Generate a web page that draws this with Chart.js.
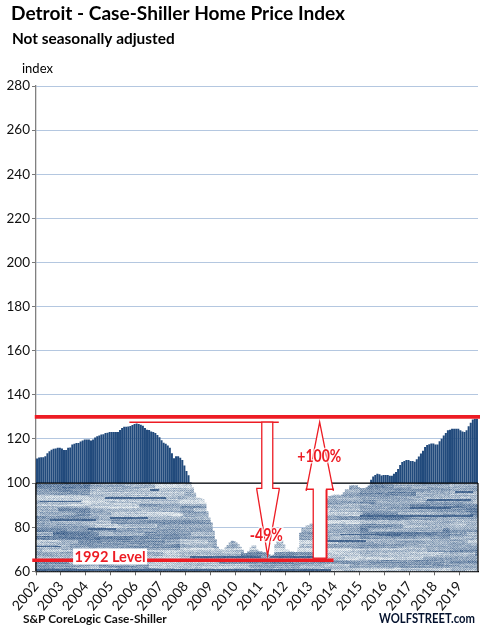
<!DOCTYPE html>
<html><head><meta charset="utf-8">
<style>html,body{margin:0;padding:0;background:#fff}canvas{display:block}</style>
<script src="https://cdn.jsdelivr.net/npm/chart.js@4"></script>
</head><body><canvas id="c" width="480" height="629"></canvas>
<script>
const firstYear = 2002;
const yTicks = [60,80,100,120,140,160,180,200,220,240,260,280];
const v2002 = [111.1,111.6,111.7,111.7,112.1,113.5,114.4,115.1,115.6,115.7,116,116];
const v2003 = [115.7,115,115,116,116.1,117.5,117.8,118.2,118.2,118.8,119.3,119.7];
const v2004 = [119.7,119.8,119.3,119.7,120.6,121.2,121.6,122,122.1,122.7,122.8,123.1];
const v2005 = [123.1,123.1,123.1,123.1,124,125,125.5,125.5,125.6,125.9,126.3,126.8];
const v2006 = [127,126.8,126.4,126,125,124.2,124,123.4,123.1,122.7,121.8,120.8];
const v2007 = [119.4,118.3,117.8,117,116,113.5,111.3,112.2,112.1,111.5,110.5,108];
const v2008 = [105.5,103.5,100.3,98,95.5,93.2,93.2,93,92.6,91,87.2,84.2];
const v2009 = [82,78.2,74.4,71,70,70,69.6,70.6,71.8,72.9,73.7,73.5];
const v2010 = [72.9,72.2,71,69.7,68.2,68.2,69,70.5,71.5,71.5,70,69];
const v2011 = [69,68.5,68.5,67.9,67.5,67,67.4,72,73.5,74,74,72];
const v2012 = [69.7,69.7,69,69,68.6,68.6,70.5,77.3,79.5,79.5,80.6,80.6];
const v2013 = [81.5,81.5,81.5,83,85,87,89,91,93,94,94.2,94.7];
const v2014 = [94.7,94.7,94.2,94.7,95.8,97,97,98.8,98.9,98.9,98.9,98];
const v2015 = [97.5,97.5,97.5,98,98.7,101.5,103,103.7,104.2,104,103.4,103.7];
const v2016 = [103.7,103.7,103.3,103.3,104.2,105,106.4,108.2,109.6,110,110.4,110.4];
const v2017 = [110,110,109.7,110.8,112,113.4,114.6,116.4,117.2,117.6,117.9,117.9];
const v2018 = [117.5,117.5,119,120.1,121.6,122.7,123.9,124.2,124.6,124.6,124.6,124.6];
const v2019 = [123.9,123.4,123.1,123.9,125.7,127.3,128.8,129.2,129.2];
const indexValues = [].concat(v2002,v2003,v2004,v2005,v2006,v2007,v2008,v2009,v2010,v2011,v2012,v2013,v2014,v2015,v2016,v2017,v2018,v2019);
const monthsTotal = indexValues.length;
const level2006Peak = 127.6, levelNow = 130, level1992 = 65, splitLevel = 100;

const RED = '#ed1c24';

function hash(a,b){const s=Math.sin(a*127.1+b*311.7)*43758.5453;return s-Math.floor(s);}
const darkStreaks = [[105,165,497,2],[110,147,517,2],[50,95,519,2],[88,115,528,2],[150,158,489,2],[40,80,501,1],
 [360,450,515,2],[410,450,507,2],[427,470,499,2],[455,472,491,2],[444,472,515,2],[325,365,540,2],[36,330,569,2],[36,60,546,1],[190,260,556,2],[340,400,534,1],[270,320,556,2]];
function makeTexture(){
  const cv=document.createElement('canvas');cv.width=480;cv.height=629;
  const g=cv.getContext('2d');const img=g.createImageData(480,629);
  for(let y=0;y<629;y++){
    for(let x=0;x<480;x++){
      const seg=Math.floor((x+hash(y,1)*40)/(10+hash(y,2)*24));
      const band=Math.floor(y/4);
      const segB=Math.floor((x+hash(band,3)*90)/(35+hash(band,4)*50));
      const broad=Math.floor(y/11);
      let t=0.25*hash(y,seg+5)+0.45*hash(band,segB+9)+0.3*hash(broad,Math.floor(x/90)+2);
      t=0.85*t+0.16;
      t+=((x+y)%2?0.09:-0.09)+(hash(x,y)-0.5)*0.22;
      for(const s of darkStreaks){ if(x>=s[0]&&x<=s[1]&&y>=s[2]&&y<s[2]+s[3]) t=0.08+hash(x,y)*0.16; }
      t=Math.max(0,Math.min(1,t));
      const i=(y*480+x)*4;
      img.data[i]=40+t*195;img.data[i+1]=78+t*162;img.data[i+2]=126+t*116;img.data[i+3]=255;
    }
  }
  g.putImageData(img,0,0);
  return g.createPattern(cv,'no-repeat');
}

const ctx=document.getElementById('c').getContext('2d');
const upperData=indexValues.map((v,m)=>v>splitLevel?{x:m+0.5,y:[splitLevel,v]}:null).filter(Boolean);
const lowerData=indexValues.map((v,m)=>({x:m+0.5,y:[60,Math.min(v,splitLevel)]}));

const overlay={id:'overlay',
 afterDatasetsDraw(ch){
  const c=ch.ctx,X=ch.scales.x,Y=ch.scales.y;
  const px=m=>X.getPixelForValue(m),py=v=>Y.getPixelForValue(v);
  const seg=(m0,v0,m1,v1,col,w)=>{c.strokeStyle=col;c.lineWidth=w;c.beginPath();c.moveTo(px(m0),py(v0));c.lineTo(px(m1),py(v1));c.stroke();};
  c.save();
  seg(0,splitLevel,monthsTotal,splitLevel,'#000',1.2);
  seg(0,splitLevel,0,60,'#000',1.2);
  seg(monthsTotal,splitLevel,monthsTotal,60,'#000',1.2);
  seg(-0.6,levelNow,monthsTotal+1,levelNow,RED,3.6);
  seg(-1.8,level1992,143.4,level1992,RED,3.4);
  seg(45,level2006Peak,117,level2006Peak,RED,1.4);
  const poly=(pts)=>{c.beginPath();pts.forEach((p,i)=>i?c.lineTo(px(p[0]),py(p[1])):c.moveTo(px(p[0]),py(p[1])));c.closePath();c.fillStyle='#fff';c.fill();c.strokeStyle=RED;c.lineWidth=1.3;c.stroke();};
  poly([[108.8,level2006Peak],[114.1,level2006Peak],[114.1,97.6],[117.2,97.6],[117.2,97],[111.6,67.2],[106.4,97],[106.4,97.6],[108.8,97.6]]);
  poly([[133.6,66],[140,66],[140,97.2],[143.3,97.2],[143.3,96.5],[136.7,127.6],[130.2,96.5],[130.2,97.2],[133.6,97.2]]);
  seg(133.4,65.2,140.2,65.2,RED,2.5);
  seg(140,66,140,97,RED,1.8);
  c.textBaseline='middle';c.textAlign='center';
  c.font='bold 16.5px Lato';
  const halo=(t,m,v,w)=>{c.lineWidth=3;c.strokeStyle='rgba(255,255,255,0.75)';c.strokeText(t,px(m),py(v),w);c.fillStyle=RED;c.fillText(t,px(m),py(v),w);};
  halo('-49%',111,76.2,33);
  halo('+100%',136.5,111.8,44);
  const lw=74,lx=px(35.7),ly=py(66.7);
  c.fillStyle='#fff';c.fillRect(lx-lw/2,ly-8,lw,16);
  c.fillStyle=RED;c.font='bold 15.5px Lato';c.fillText('1992 Level',lx,ly,71);
  c.restore();
 },
 afterDraw(ch){
  const c=ch.ctx;c.save();c.fillStyle='#000';c.textBaseline='alphabetic';c.textAlign='left';
  c.font='bold 19.1px Lato';c.fillText('Detroit - Case-Shiller Home Price Index',11,20);
  c.font='bold 15.4px Lato';c.fillText('Not seasonally adjusted',12,44);
  c.font='13px Lato';c.fillText('index',22,73);
  c.font='bold 11.9px Lato';c.fillStyle='#111';c.fillText('S&P CoreLogic Case-Shiller',23,623);
  c.font='bold 13.4px Lato';c.fillStyle='#04122e';c.fillText('WOLFSTREET.com',379,623,96);
  c.restore();
 }};

new Chart(ctx,{
 type:'bar',
 data:{datasets:[
  {label:'Above 100',data:upperData,backgroundColor:'#214a7c',barPercentage:0.97,categoryPercentage:1,grouped:false},
  {label:'Below 100',data:lowerData,backgroundColor:makeTexture(),barPercentage:1,categoryPercentage:1,grouped:false}
 ]},
 plugins:[overlay],
 options:{
  responsive:false,animation:false,devicePixelRatio:1,
  layout:{padding:{left:0,right:2,top:86,bottom:0}},
  plugins:{legend:{display:false},title:{display:false},tooltip:{enabled:false}},
  scales:{
   x:{type:'linear',min:0,max:monthsTotal,offset:false,
    afterFit(s){s.height=57.7;},
    grid:{offset:false,drawOnChartArea:false,drawTicks:true,tickLength:4,tickColor:'#666'},
    border:{color:'#000',width:1.2},
    ticks:{stepSize:12,includeBounds:false,autoSkip:false,minRotation:50,maxRotation:50,padding:3,color:'#111',font:{family:'Lato',size:14},
      callback:v=>String(firstYear+v/12)}
   },
   y:{min:60,max:280,
    afterFit(s){s.width=36;},
    afterBuildTicks(s){s.ticks=yTicks.map(v=>({value:v}));},
    grid:{color:'#b4c7e0',lineWidth:1,tickLength:4,tickColor:'#777'},
    border:{color:'#808080',width:1.3},
    ticks:{padding:2,color:'#111',font:{family:'Lato',size:13.5}}
   }
  }
 }
});
</script></body></html>
